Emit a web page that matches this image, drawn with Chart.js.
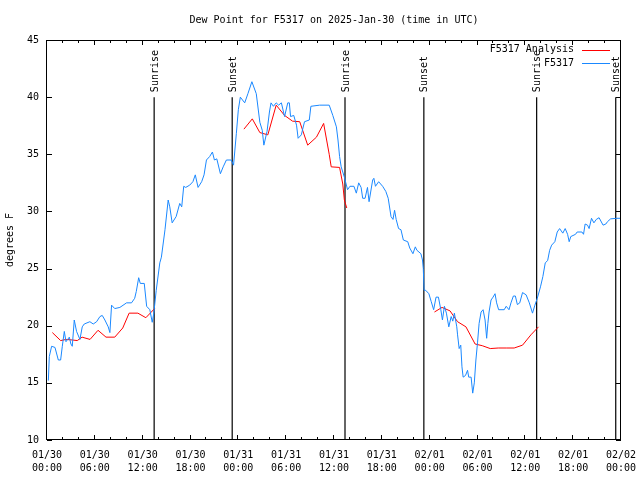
<!DOCTYPE html>
<html>
<head>
<meta charset="utf-8">
<script src="https://cdn.jsdelivr.net/npm/chart.js@4.4.1/dist/chart.umd.min.js"></script>
<style>
  html, body { margin: 0; padding: 0; background: #fff; }
</style>
</head>
<body>
<canvas id="chart" width="640" height="480"></canvas>
<script>
// hours since 01/30 00:00 UTC
const stationTimes = [
  0.17, 0.29, 0.58, 1.0, 1.42, 1.71, 1.92, 2.17, 2.38, 2.8, 3.0, 3.17, 3.42, 3.71, 4.13, 4.42, 4.67,
  5.38, 5.8, 6.22, 6.64, 6.93, 7.26, 7.68, 7.89, 8.1, 8.5, 9.14, 9.98, 10.6, 11.0, 11.2, 11.5, 11.7,
  12.2, 12.5, 12.9, 13.2, 13.4, 13.7, 14.15, 14.35, 14.8, 15.2, 15.4, 15.7, 16.2, 16.65, 16.9, 17.15,
  17.4, 17.9, 18.3, 18.6, 18.95, 19.4, 19.7, 20.0, 20.4, 20.75, 21.0, 21.3, 21.75, 22.1, 22.5, 23.1,
  23.4, 23.75, 24.0, 24.25, 24.8, 25.2, 25.7, 26.25, 26.7, 27.0, 27.2, 27.6, 27.9, 28.1, 28.4, 28.75,
  29.05, 29.4, 29.8, 30.2, 30.4, 30.55, 30.95, 31.3, 31.5, 31.9, 32.3, 32.9, 33.1, 34.2, 35.4, 35.85,
  36.3, 36.5, 36.7, 36.9, 37.3, 37.7, 38.0, 38.5, 38.8, 39.1, 39.4, 39.6, 39.9, 40.2, 40.4, 40.85,
  41.0, 41.2, 41.6, 42.1, 42.5, 42.8, 43.15, 43.4, 43.6, 43.8, 44.1, 44.4, 44.7, 45.25, 45.5, 45.9,
  46.2, 46.4, 46.9, 47.1, 47.2, 47.3, 47.5, 47.9, 48.2, 48.5, 48.8, 49.1, 49.4, 49.6, 49.85, 50.1,
  50.4, 50.7, 50.9, 51.1, 51.4, 51.5, 51.7, 51.9, 52.05, 52.2, 52.5, 52.75, 52.9, 53.2, 53.4, 53.6,
  53.8, 54.0, 54.2, 54.45, 54.7, 54.95, 55.15, 55.3, 55.45, 55.7, 55.95, 56.2, 56.4, 56.65, 57.35,
  57.6, 57.95, 58.2, 58.5, 58.75, 59.0, 59.3, 59.65, 60.1, 60.5, 60.9, 61.2, 61.5, 61.9, 62.2, 62.5,
  62.8, 63.05, 63.3, 63.7, 64.0, 64.3, 64.7, 65.0, 65.3, 65.5, 65.7, 66.3, 66.5, 67.1, 67.3, 67.5,
  67.8, 68.0, 68.3, 68.6, 68.9, 69.25, 69.75, 70.1, 70.3, 70.7, 71.5, 72.0
];
const stationDew = [
  15.2, 17.3, 18.2, 18.1, 17.0, 17.0, 18.2, 19.5, 18.6, 19.0, 18.4, 18.2, 20.5, 19.5, 18.8, 19.9, 20.15,
  20.35, 20.15, 20.35, 20.8, 20.9, 20.5, 19.9, 19.4, 21.8, 21.5, 21.6, 22.0, 22.0, 22.4, 23.0, 24.2, 23.7,
  23.7, 21.7, 21.4, 20.3, 21.1, 23.1, 25.5, 26.0, 28.4, 31.0, 30.4, 29.0, 29.55, 30.7, 30.4, 32.2,
  32.1, 32.3, 32.6, 33.2, 32.1, 32.6, 33.2, 34.5, 34.8, 35.2, 34.5, 34.6, 33.3, 33.9, 34.5, 34.5,
  34.05, 36.8, 38.9, 40.0, 39.5, 40.3, 41.35, 40.3, 37.8, 37.1, 35.8, 37.0, 38.7, 39.5, 39.2, 39.5,
  39.3, 39.5, 38.3, 39.5, 39.5, 38.3, 38.4, 37.55, 36.4, 36.7, 37.85, 38.0, 39.2, 39.3, 39.3, 38.4,
  37.4, 36.25, 34.8, 33.9, 33.0, 31.9, 32.2, 32.2, 31.6, 32.5, 32.1, 31.15, 31.15, 32.1, 30.85, 32.75,
  32.9, 32.2, 32.6, 32.2, 31.75, 31.15, 29.55, 29.3, 30.1, 29.3, 28.5, 28.4, 27.5, 27.35, 26.8, 26.3,
  26.9, 26.6, 26.3, 25.75, 25.0, 23.1, 23.1, 22.8, 22.1, 21.4, 22.5, 22.5, 21.4, 20.5, 21.7, 21.1,
  19.9, 20.8, 20.4, 21.1, 19.9, 19.2, 18.0, 18.3, 16.4, 15.5, 15.65, 16.1, 15.5, 15.5, 14.1, 15.0,
  17.0, 18.5, 20.2, 21.2, 21.4, 20.5, 18.9, 20.2, 21.2, 22.25, 22.5, 22.8, 22.0, 21.4, 21.4,
  21.7, 21.4, 22.0, 22.6, 22.6, 21.85, 22.0, 22.9, 22.7, 22.0, 21.1, 21.8, 22.4, 23.4, 24.3, 25.5,
  25.7, 26.6, 27.05, 27.35, 28.2, 28.5, 28.1, 28.5, 28.0, 27.35, 27.8, 28.0, 28.2, 28.2, 28.0, 28.9,
  28.8, 28.5, 29.4, 29.0, 29.3, 29.45, 28.8, 28.9, 29.1, 29.35, 29.4, 29.4
];

// analysis series, null = no analysis for that period
const analysisTimes = [
  0.67, 1.71, 2.4, 3.2, 3.8, 4.4, 5.4, 6.4, 7.4, 8.5, 9.5, 10.3, 11.4, 12.4, 13.5,
  19.0,
  24.7, 25.75, 26.7, 27.7, 28.75, 29.8, 30.8, 31.7, 32.7, 33.8, 34.7, 35.4, 35.65, 36.7, 37.1, 37.3, 37.6,
  43.0,
  48.6, 49.55, 50.55, 51.5, 52.55, 53.7, 54.6, 55.6, 56.6, 57.6, 58.6, 59.65, 60.7, 61.65
];
const analysisDew = [
  19.4, 18.7, 18.8, 18.75, 18.7, 19.0, 18.8, 19.6, 19.0, 19.0, 19.8, 21.1, 21.1, 20.7, 21.5,
  null,
  37.2, 38.1, 36.9, 36.7, 39.3, 38.4, 37.9, 37.85, 35.8, 36.5, 37.7, 35.0, 33.9, 33.85, 32.4, 31.0, 30.3,
  null,
  21.2, 21.6, 21.3, 20.35, 19.9, 18.4, 18.25, 18.0, 18.05, 18.05, 18.05, 18.3, 19.2, 19.9
];

const sunTimes = [13.44, 23.23, 37.38, 47.27, 61.42, 71.34];
const sunLabels = ['Sunrise', 'Sunset', 'Sunrise', 'Sunset', 'Sunrise', 'Sunset'];
const sunLineTop = 40;

const tickDates = ['01/30', '01/31', '02/01', '02/02'];
const tickHours = ['00:00', '06:00', '12:00', '18:00'];

const FONT = "'DejaVu Sans Mono', 'Liberation Mono', monospace";
Chart.defaults.font.family = FONT;
Chart.defaults.font.size = 10;
Chart.defaults.color = '#000';

const toPoints = (xs, ys) => xs.map((t, i) => ({ x: t, y: ys[i] }));

const datasets = [
  {
    label: 'F5317 Analysis',
    data: toPoints(analysisTimes, analysisDew),
    borderColor: '#ff0000',
    inLegend: true,
    order: 1
  },
  {
    label: 'F5317',
    data: toPoints(stationTimes, stationDew),
    borderColor: '#1a88ff',
    inLegend: true,
    order: 0
  }
];
sunTimes.forEach((t, i) => {
  datasets.push({
    label: sunLabels[i],
    data: [{ x: t, y: 10 }, { x: t, y: sunLineTop }],
    borderColor: '#000',
    borderWidth: 1.2,
    sunMark: true,
    order: 2
  });
});

// box, inward ticks, sun labels and the gnuplot-like key
const gnuplotFrame = {
  id: 'gnuplotFrame',
  afterDatasetsDraw(chart) {
    const { ctx, chartArea: a, scales: { x, y } } = chart;
    ctx.save();
    ctx.strokeStyle = '#000';
    ctx.lineWidth = 1;
    ctx.strokeRect(a.left - 0.5, a.top + 0.5, a.right - a.left, a.bottom - a.top - 1);

    ctx.beginPath();
    for (let h = x.min; h <= x.max; h += 2) {
      const px = Math.round(x.getPixelForValue(h)) - 0.5;
      const len = h % 6 === 0 ? 5 : 3;
      ctx.moveTo(px, a.bottom); ctx.lineTo(px, a.bottom - len);
      ctx.moveTo(px, a.top); ctx.lineTo(px, a.top + len);
    }
    y.ticks.forEach(t => {
      const py = Math.round(y.getPixelForValue(t.value)) + 0.5;
      ctx.moveTo(a.left, py); ctx.lineTo(a.left + 5, py);
      ctx.moveTo(a.right, py); ctx.lineTo(a.right - 5, py);
    });
    ctx.stroke();

    ctx.fillStyle = '#000';
    ctx.font = '10px ' + FONT;
    chart.data.datasets.filter(d => d.sunMark).forEach(d => {
      const px = x.getPixelForValue(d.data[0].x);
      const py = y.getPixelForValue(d.data[1].y);
      ctx.save();
      ctx.translate(px + 1, py - 5);
      ctx.rotate(-Math.PI / 2);
      ctx.textAlign = 'left';
      ctx.textBaseline = 'middle';
      ctx.fillText(d.label, 0, 0);
      ctx.restore();
    });

    // key, top right inside the plot
    ctx.textAlign = 'right';
    ctx.textBaseline = 'middle';
    chart.data.datasets.filter(d => d.inLegend).forEach((d, i) => {
      const ly = a.top + 9.5 + i * 13.5;
      ctx.fillStyle = '#000';
      ctx.fillText(d.label, a.right - 47, ly);
      ctx.strokeStyle = d.borderColor;
      ctx.beginPath();
      ctx.moveTo(a.right - 39, Math.round(ly) + 0.5);
      ctx.lineTo(a.right - 11, Math.round(ly) + 0.5);
      ctx.stroke();
    });
    ctx.restore();
  }
};

new Chart(document.getElementById('chart'), {
  type: 'line',
  data: { datasets },
  options: {
    responsive: false,
    animation: false,
    devicePixelRatio: 1,
    layout: { padding: { right: 19 } },
    elements: {
      point: { radius: 0 },
      line: { borderWidth: 1, tension: 0 }
    },
    plugins: {
      legend: { display: false },
      tooltip: { enabled: false },
      title: {
        display: true,
        text: 'Dew Point for F5317 on 2025-Jan-30 (time in UTC)',
        fullSize: false,
        font: { size: 10, weight: 'normal' },
        color: '#000',
        padding: { top: 14, bottom: 14 }
      }
    },
    scales: {
      x: {
        type: 'linear',
        min: 0,
        max: 72,
        grid: { display: false, drawTicks: false },
        border: { display: false },
        afterFit: s => { s.height = 40; s.paddingLeft = 0; s.paddingRight = 0; },
        ticks: {
          stepSize: 6,
          autoSkip: false,
          maxRotation: 0,
          padding: 9,
          font: { size: 10, lineHeight: 1.3 },
          callback: v => [tickDates[Math.floor(v / 24)], tickHours[(v % 24) / 6]]
        }
      },
      y: {
        min: 10,
        max: 45,
        grid: { display: false, drawTicks: false },
        border: { display: false },
        afterFit: s => { s.width = 47; },
        ticks: { stepSize: 5, padding: 8, font: { size: 10 } },
        title: {
          display: true,
          text: 'degrees F',
          font: { size: 10 },
          padding: { top: 4, bottom: 0 }
        }
      }
    }
  },
  plugins: [gnuplotFrame]
});
</script>
</body>
</html>
